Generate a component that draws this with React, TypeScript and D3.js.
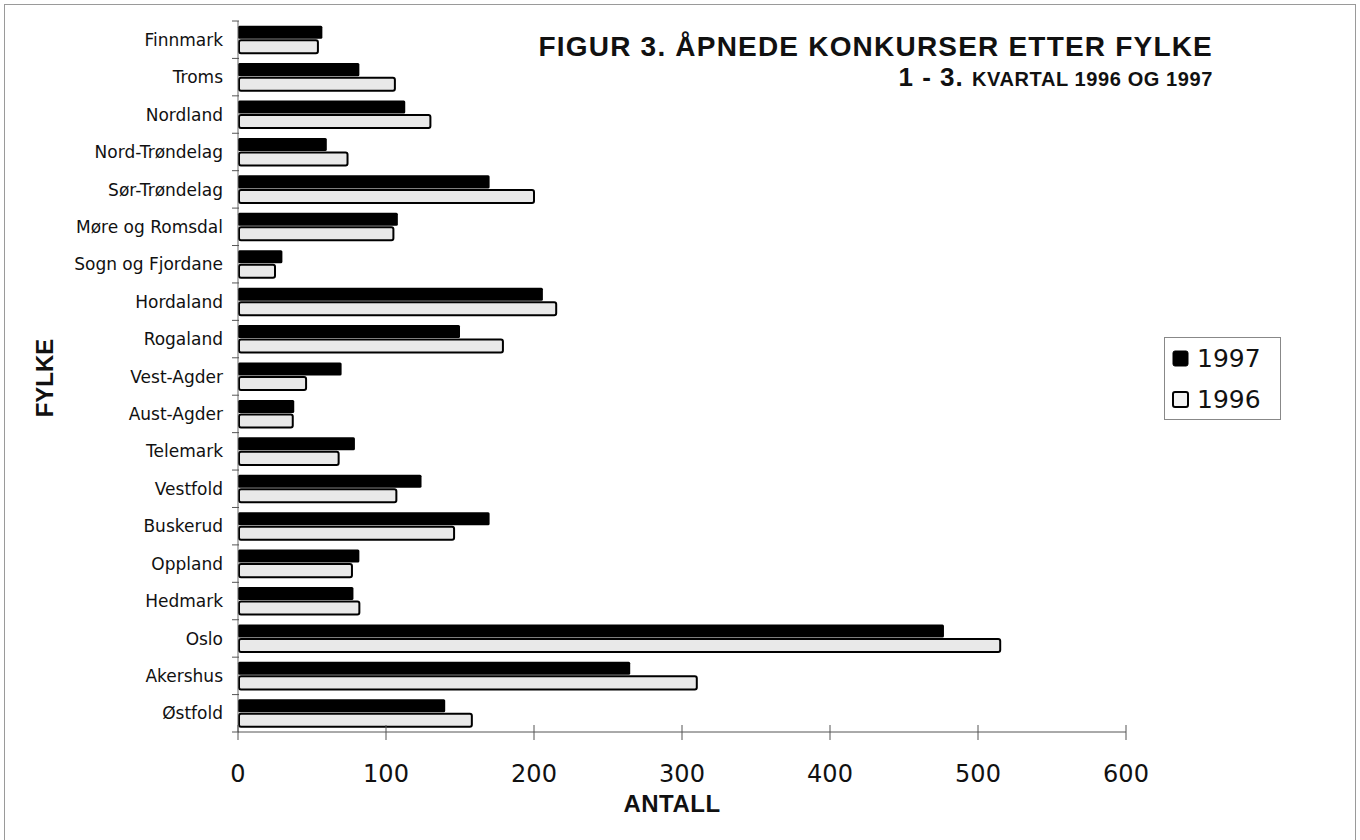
import { useEffect, useRef } from 'react';
import * as d3 from 'd3';

const counties = [
  'Finnmark', 'Troms', 'Nordland', 'Nord-Trøndelag', 'Sør-Trøndelag',
  'Møre og Romsdal', 'Sogn og Fjordane', 'Hordaland', 'Rogaland', 'Vest-Agder',
  'Aust-Agder', 'Telemark', 'Vestfold', 'Buskerud', 'Oppland', 'Hedmark',
  'Oslo', 'Akershus', 'Østfold',
];
const values1997 = [57, 82, 113, 60, 170, 108, 30, 206, 150, 70, 38, 79, 124, 170, 82, 78, 477, 265, 140];
const values1996 = [54, 106, 130, 74, 200, 105, 25, 215, 179, 46, 37, 68, 107, 146, 77, 82, 515, 310, 158];
const years = ['1997', '1996'];
const xTicks = [0, 100, 200, 300, 400, 500, 600];

const FONT = "'DejaVu Sans', Verdana, sans-serif";
const BOLD_FONT = "'Liberation Sans', Arial, Helvetica, sans-serif";

export default function App() {
  const ref = useRef<SVGSVGElement | null>(null);
  const width = 1360;
  const height = 840;

  useEffect(() => {
    if (!ref.current) return;
    const svg = d3.select(ref.current);
    svg.selectAll('*').remove();

    const margin = { top: 21, left: 238, right: 234, bottom: 108 };
    const x = d3.scaleLinear().domain([0, 600]).range([margin.left, width - margin.right]);
    const y = d3.scaleBand<string>()
      .domain(counties)
      .range([margin.top, height - margin.bottom])
      .paddingInner(0.25)
      .paddingOuter(0.125);
    const sub = d3.scaleBand<string>().domain(years).range([0, y.bandwidth()]).padding(0);

    // outer frame
    svg.append('rect')
      .attr('x', 4.5).attr('y', 4.5)
      .attr('width', width - 9).attr('height', height + 20)
      .attr('fill', 'none').attr('stroke', '#9a9a9a').attr('stroke-width', 1);

    const rows = counties.map((c, i) => ({ county: c, v97: values1997[i], v96: values1996[i] }));

    // 1997 bars
    svg.append('g').selectAll('rect')
      .data(rows)
      .enter()
      .append('rect')
      .attr('x', x(0))
      .attr('y', d => y(d.county)! + sub('1997')!)
      .attr('width', d => x(d.v97) - x(0))
      .attr('height', sub.bandwidth() - 1)
      .attr('rx', 1.5)
      .attr('fill', '#000');

    // 1996 bars
    svg.append('g').selectAll('rect')
      .data(rows)
      .enter()
      .append('rect')
      .attr('x', x(0) + 1)
      .attr('y', d => y(d.county)! + sub('1996')! + 0.5)
      .attr('width', d => x(d.v96) - x(0) - 1)
      .attr('height', sub.bandwidth() - 1)
      .attr('rx', 2)
      .attr('fill', '#e9e9e9')
      .attr('stroke', '#000')
      .attr('stroke-width', 2);

    // y axis
    const step = y.step();
    svg.append('line')
      .attr('x1', x(0)).attr('x2', x(0))
      .attr('y1', margin.top).attr('y2', height - margin.bottom)
      .attr('stroke', '#666').attr('stroke-width', 1);
    svg.append('g').selectAll('line')
      .data(d3.range(counties.length + 1))
      .enter()
      .append('line')
      .attr('x1', x(0) - 6).attr('x2', x(0) + 1)
      .attr('y1', i => margin.top + i * step)
      .attr('y2', i => margin.top + i * step)
      .attr('stroke', '#555').attr('stroke-width', 1);

    svg.append('g').selectAll('text')
      .data(counties)
      .enter()
      .append('text')
      .attr('x', 223)
      .attr('y', d => y(d)! - y.step() * 0.125 + step / 2)
      .attr('dy', '0.36em')
      .attr('text-anchor', 'end')
      .attr('font-family', FONT)
      .attr('font-size', '17px')
      .attr('fill', '#111')
      .text(d => d);

    // x axis
    const axisY = height - margin.bottom;
    svg.append('line')
      .attr('x1', x(0)).attr('x2', x(600))
      .attr('y1', axisY).attr('y2', axisY)
      .attr('stroke', '#555').attr('stroke-width', 1);
    svg.append('g').selectAll('line')
      .data(xTicks)
      .enter()
      .append('line')
      .attr('x1', d => x(d)).attr('x2', d => x(d))
      .attr('y1', axisY - 7).attr('y2', axisY + 8)
      .attr('stroke', '#555').attr('stroke-width', 1);
    svg.append('g').selectAll('text')
      .data(xTicks)
      .enter()
      .append('text')
      .attr('x', d => x(d))
      .attr('y', 782)
      .attr('text-anchor', 'middle')
      .attr('font-family', FONT)
      .attr('font-size', '24px')
      .attr('fill', '#111')
      .text(d => d);

    svg.append('text')
      .attr('x', 672).attr('y', 812)
      .attr('text-anchor', 'middle')
      .attr('font-family', BOLD_FONT)
      .attr('font-weight', 'bold')
      .attr('font-size', '24px')
      .attr('letter-spacing', '0.5px')
      .attr('fill', '#111')
      .text('ANTALL');

    svg.append('text')
      .attr('transform', 'translate(53,378) rotate(-90)')
      .attr('text-anchor', 'middle')
      .attr('font-family', BOLD_FONT)
      .attr('font-weight', 'bold')
      .attr('font-size', '24px')
      .attr('fill', '#111')
      .text('FYLKE');

    // title
    svg.append('text')
      .attr('x', 1213).attr('y', 56)
      .attr('text-anchor', 'end')
      .attr('font-family', BOLD_FONT)
      .attr('font-weight', 'bold')
      .attr('font-size', '28px')
      .attr('letter-spacing', '1.2px')
      .attr('fill', '#111')
      .text('FIGUR 3. ÅPNEDE KONKURSER ETTER FYLKE');

    const subtitle = svg.append('text')
      .attr('x', 1213).attr('y', 86)
      .attr('text-anchor', 'end')
      .attr('font-family', BOLD_FONT)
      .attr('font-weight', 'bold')
      .attr('fill', '#111');
    subtitle.append('tspan').attr('font-size', '26px').attr('letter-spacing', '1px').text('1 - 3. ');
    subtitle.append('tspan').attr('font-size', '20px').attr('letter-spacing', '0.6px').text('KVARTAL 1996 OG 1997');

    // legend
    const legend = svg.append('g').attr('transform', 'translate(1164,337)');
    legend.append('rect')
      .attr('x', 0.5).attr('y', 0.5).attr('width', 116).attr('height', 82)
      .attr('fill', '#fff').attr('stroke', '#888').attr('stroke-width', 1);
    years.forEach((yr, i) => {
      legend.append('rect')
        .attr('x', 9).attr('y', 14 + i * 41)
        .attr('width', 15).attr('height', 15)
        .attr('rx', 2)
        .attr('fill', yr === '1997' ? '#000' : '#f2f2f2')
        .attr('stroke', '#000').attr('stroke-width', yr === '1997' ? 1 : 2);
      legend.append('text')
        .attr('x', 33).attr('y', 30 + i * 41)
        .attr('font-family', FONT)
        .attr('font-size', '25px')
        .attr('fill', '#111')
        .text(yr);
    });
  }, []);

  return (
    <svg
      ref={ref}
      width={width}
      height={height}
      style={{ position: 'absolute', left: 0, top: 0, background: '#fff' }}
    />
  );
}
